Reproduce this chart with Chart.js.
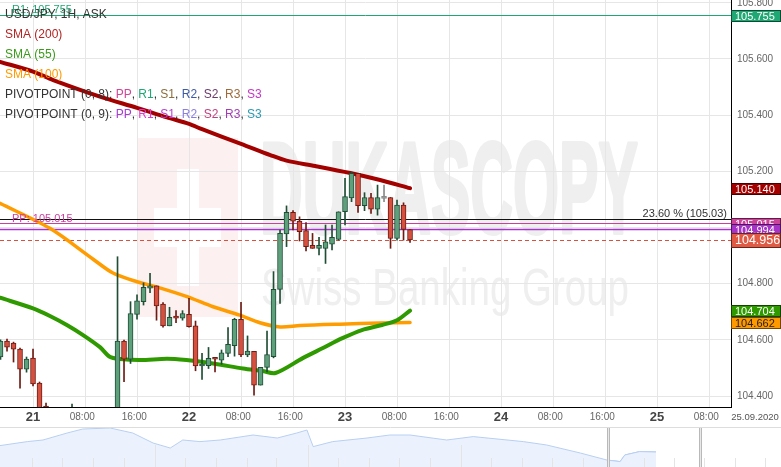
<!DOCTYPE html>
<html>
<head>
<meta charset="utf-8">
<script src="https://cdn.jsdelivr.net/npm/chart.js@4.4.1/dist/chart.umd.min.js"></script>
<style>
html, body { margin: 0; padding: 0; background: #fff; }
#wrap { position: relative; width: 781px; height: 467px; overflow: hidden; }
#main { position: absolute; left: 0; top: 0; }
#nav { position: absolute; left: 0; top: 425px; }
</style>
</head>
<body>
<div id="wrap">
  <canvas id="main" width="781" height="425"></canvas>
  <canvas id="nav" width="781" height="42"></canvas>
</div>
<script>
// hours counted from 21.09 00:00
var hours  = [-5,-4,-3,-2,-1,0,1,2,3,4,5,6,7,8,9,10,11,12,13,14,15,16,17,18,19,20,21,22,23,24,25,26,27,28,29,30,31,32,33,34,35,36,37,38,39,40,41,42,43,44,45,46,47,48,49,50,51,52,53,54,55,56,57,58];
var opens  = [104.539,104.596,104.589,104.567,104.496,104.535,104.446,104.364,104.300,104.260,104.220,104.280,104.310,104.270,104.290,104.260,104.240,104.270,104.300,104.596,104.531,104.691,104.736,104.784,104.792,104.727,104.650,104.685,104.677,104.691,104.650,104.507,104.508,104.534,104.528,104.552,104.579,104.673,104.546,104.559,104.439,104.502,104.540,104.780,104.977,105.054,105.023,104.989,104.937,104.926,104.926,104.941,104.958,105.056,105.105,105.193,105.078,105.107,105.065,105.104,105.107,104.961,105.080,104.993];
var highs  = [104.600,104.603,104.592,104.571,104.539,104.567,104.450,104.375,104.330,104.290,104.300,104.371,104.340,104.310,104.330,104.300,104.290,104.330,104.896,104.599,104.736,104.760,104.803,104.837,104.792,104.733,104.716,104.704,104.704,104.748,104.667,104.552,104.573,104.534,104.564,104.644,104.677,104.734,104.614,104.559,104.502,104.631,104.843,104.991,105.077,105.060,105.038,105.018,104.979,104.965,105.009,105.009,105.056,105.175,105.197,105.193,105.124,105.122,105.151,105.151,105.107,105.098,105.088,104.993];
var lows   = [104.530,104.560,104.521,104.428,104.485,104.436,104.300,104.270,104.240,104.200,104.190,104.250,104.260,104.220,104.250,104.210,104.200,104.230,104.280,104.451,104.516,104.674,104.724,104.768,104.670,104.645,104.650,104.661,104.670,104.645,104.490,104.459,104.498,104.486,104.513,104.540,104.542,104.540,104.540,104.403,104.439,104.486,104.536,104.730,104.932,104.991,104.952,104.917,104.926,104.902,104.872,104.920,104.955,105.009,105.092,105.054,105.060,105.050,105.044,105.092,104.926,104.955,104.955,104.947];
var closes = [104.596,104.574,104.567,104.496,104.532,104.443,104.330,104.300,104.260,104.220,104.280,104.310,104.270,104.290,104.260,104.240,104.270,104.300,104.596,104.531,104.694,104.739,104.787,104.792,104.721,104.650,104.680,104.677,104.694,104.647,104.507,104.514,104.534,104.531,104.554,104.584,104.673,104.546,104.560,104.439,104.502,104.548,104.780,104.979,105.054,105.023,104.985,104.932,104.926,104.937,104.949,104.965,105.056,105.110,105.193,105.078,105.107,105.065,105.107,105.104,104.961,105.080,104.993,104.956];

var sma200X = [-5.08,0,3.1,10.3,16,20.6,24,26,32,36.5,39,43.4,48.8,53.4,58];
var sma200Y = [105.590,105.555,105.525,105.466,105.426,105.392,105.369,105.350,105.298,105.258,105.238,105.219,105.194,105.169,105.140];
var sma55X  = [-5.08,0,2.6,5.2,7.7,10.3,11.8,13.4,16.5,20.6,23.6,27.7,32.3,35.3,37.3,41.5,44.6,47.6,50.6,53.7,56,58];
var sma55Y  = [104.750,104.712,104.685,104.653,104.617,104.574,104.540,104.532,104.528,104.533,104.528,104.516,104.498,104.489,104.482,104.535,104.571,104.606,104.635,104.653,104.670,104.704];
var sma100X = [-5.08,2.6,9.2,12.3,16,19.1,23.7,27.7,31.8,34.9,38,41.1,47.2,53.4,58];
var sma100Y = [105.086,104.997,104.888,104.838,104.807,104.788,104.754,104.718,104.688,104.661,104.646,104.651,104.656,104.660,104.662];

var r1Level = 105.755;
var fibLevel = 105.03;
var pp8Level = 105.015;
var pp9Level = 104.994;
var lastPrice = 104.956;

var firstDay = 21;
var dateLabel = '25.09.2020';

// navigator (overview) profile
var navX = [0,3.5,5.5,8.6,10.6,14.1,17,19.6,21.8,23.4,25.6,28.2,32.4,35.5,38,39.3,40.1,42.6,47,49.9,52.5,57.2,60.6,67,70,74.3,77.7,79.4,80,81.9,84];
var navY = [105.97,106.17,106.25,106.6,106.8,106.85,106.6,106.1,105.85,106.25,106.17,106.25,106.5,106.35,106.6,106.75,105.92,106.17,106.35,106.5,106.5,106.25,106.42,106.17,106.0,105.6,105.25,105.17,105.5,105.67,105.65];
var navWinStart = 77.85;
var navWinEnd = 89.6;
var navTicks = [4.1,8.0,11.9,15.9,19.8,23.7,27.6,31.6,35.4,39.4,43.3,47.2,51.1,55.0,59.0,62.9,66.8,70.7,74.6,82.5,86.3,90.2,94.1,98.0];
var navTallTicks = [19.8,39.4,59.0];

var FONT = 'Arial, "Liberation Sans", sans-serif';
Chart.defaults.font.family = FONT;

var bodyFill = [], edge = [];
for (var i = 0; i < hours.length; i++) {
    if (closes[i] > opens[i]) { bodyFill.push('#5e9f7c'); edge.push('#1f4e35'); }
    else if (closes[i] < opens[i]) { bodyFill.push('#d5503f'); edge.push('#6e1b13'); }
    else { bodyFill.push('#9a9a9a'); edge.push('#8a8a8a'); }
}

function pts(xs, ys) {
    return xs.map(function (x, k) { return {x: x, y: ys[k]}; });
}

var watermark = {
    id: 'watermark',
    beforeDraw: function (chart) {
        var ctx = chart.ctx;
        ctx.save();
        // swiss cross logo
        ctx.fillStyle = '#fcf0f0';
        ctx.fillRect(137, 138, 101, 179);
        ctx.fillStyle = '#ffffff';
        ctx.fillRect(177, 169, 22, 117);
        ctx.fillRect(154, 208, 67, 39);
        // company name
        ctx.fillStyle = '#efefef';
        ctx.strokeStyle = '#efefef';
        ctx.lineWidth = 4;
        ctx.lineJoin = 'round';
        ctx.font = 'bold 130px ' + FONT;
        ctx.textBaseline = 'alphabetic';
        var w = ctx.measureText('DUKASCOPY').width;
        ctx.translate(260, 233);
        ctx.scale(378 / w, 1);
        ctx.fillText('DUKASCOPY', 0, 0);
        ctx.strokeText('DUKASCOPY', 0, 0);
        ctx.restore();
        ctx.save();
        ctx.fillStyle = '#efefef';
        ctx.font = '52px ' + FONT;
        var w2 = ctx.measureText('Swiss Banking Group').width;
        ctx.translate(261, 305);
        ctx.scale(368 / w2, 1);
        ctx.fillText('Swiss Banking Group', 0, 0);
        ctx.restore();
    }
};

var levels = {
    id: 'levels',
    beforeDatasetsDraw: function (chart) {
        var ctx = chart.ctx, a = chart.chartArea, y = chart.scales.y;
        var list = [
            {v: r1Level, c: '#1fa774', w: 1},
            {v: fibLevel, c: '#111111', w: 1},
            {v: pp8Level, c: '#cc3fa0', w: 1.2},
            {v: pp9Level, c: '#a535cc', w: 1.5},
            {v: lastPrice, c: '#d9503f', w: 1, d: [4, 3]}
        ];
        ctx.save();
        list.forEach(function (l) {
            var py = Math.round(y.getPixelForValue(l.v)) + 0.5;
            ctx.strokeStyle = l.c;
            ctx.lineWidth = l.w;
            ctx.setLineDash(l.d || []);
            ctx.beginPath();
            ctx.moveTo(a.left, py);
            ctx.lineTo(a.right, py);
            ctx.stroke();
        });
        ctx.restore();
    }
};

function runs(ctx, x, y, parts) {
    parts.forEach(function (p) {
        ctx.fillStyle = p[1];
        ctx.fillText(p[0], x, y);
        x += ctx.measureText(p[0]).width;
    });
}

var overlay = {
    id: 'overlay',
    afterDraw: function (chart) {
        var ctx = chart.ctx, a = chart.chartArea, y = chart.scales.y;
        ctx.save();
        // level captions
        ctx.font = '11px ' + FONT;
        ctx.textBaseline = 'alphabetic';
        ctx.fillStyle = '#1fa774';
        ctx.fillText('R1: 105.755', 12, y.getPixelForValue(r1Level) - 2);
        ctx.fillStyle = '#cc3fa0';
        ctx.fillText('PP: 105.015', 12, y.getPixelForValue(pp8Level) - 1);
        ctx.fillStyle = '#333';
        ctx.textAlign = 'right';
        ctx.fillText('23.60 % (105.03)', a.right - 4, y.getPixelForValue(fibLevel) - 2);
        ctx.textAlign = 'left';

        // legend block
        ctx.font = '12px ' + FONT;
        ctx.textBaseline = 'middle';
        var k = '#333333';
        runs(ctx, 5, 15, [['USD/JPY, 1H, ASK', k]]);
        runs(ctx, 5, 35, [['SMA (200)', '#b32424']]);
        runs(ctx, 5, 55, [['SMA (55)', '#3a9a1a']]);
        runs(ctx, 5, 75, [['SMA (100)', '#ff9a00']]);
        runs(ctx, 5, 95, [['PIVOTPOINT (0, 8): ', k], ['PP', '#d0479a'], [', ', k], ['R1', '#1fa774'], [', ', k], ['S1', '#8c6d3b'], [', ', k],
            ['R2', '#3d5aa8'], [', ', k], ['S2', '#6b3a6b'], [', ', k], ['R3', '#9c6b3a'], [', ', k], ['S3', '#c436c4']]);
        runs(ctx, 5, 115, [['PIVOTPOINT (0, 9): ', k], ['PP', '#a73ad0'], [', ', k], ['R1', '#e03cc8'], [', ', k], ['S1', '#b63fd0'], [', ', k],
            ['R2', '#8a7fe0'], [', ', k], ['S2', '#c0407f'], [', ', k], ['R3', '#a03db0'], [', ', k], ['S3', '#2a9ab0']]);

        // price tags on the axis
        var tags = [
            {v: r1Level, bg: '#1fa774', fg: '#fff'},
            {v: sma200Y[sma200Y.length - 1], bg: '#a30000', fg: '#fff'},
            {v: pp8Level, bg: '#cc4499', fg: '#fff'},
            {v: pp9Level, bg: '#a632c8', fg: '#fff'},
            {v: sma55Y[sma55Y.length - 1], bg: '#2e9a00', fg: '#fff'},
            {v: sma100Y[sma100Y.length - 1], bg: '#ff9900', fg: '#222'},
            {v: lastPrice, bg: '#e05a44', fg: '#fff', big: true}
        ];
        ctx.textBaseline = 'middle';
        tags.forEach(function (t) {
            var cy = y.getPixelForValue(t.v) + 0.5;
            var h = t.big ? 15 : 12;
            var top = Math.round(cy - h / 2);
            ctx.fillStyle = t.bg;
            ctx.fillRect(a.right, top, 50, h);
            ctx.strokeStyle = 'rgba(0,0,0,0.55)';
            ctx.lineWidth = 1;
            ctx.strokeRect(a.right + 0.5, top + 0.5, 49, h - 1);
            ctx.fillStyle = t.fg;
            ctx.font = (t.big ? '12.5px ' : '11px ') + FONT;
            ctx.fillText(t.v.toFixed(3), a.right + 4, top + h / 2 + 0.5);
        });

        ctx.font = '9.5px ' + FONT;
        ctx.fillStyle = '#555';
        ctx.textAlign = 'center';
        ctx.fillText(dateLabel, 755, 417);
        ctx.restore();
    }
};

new Chart(document.getElementById('main'), {
    type: 'bar',
    data: {
        datasets: [
            {
                data: hours.map(function (h, k) { return {x: h, y: [opens[k], closes[k]]}; }),
                backgroundColor: bodyFill,
                borderColor: edge,
                borderWidth: 1,
                borderSkipped: false,
                barThickness: 5,
                minBarLength: 2,
                grouped: false,
                order: 0
            },
            {
                data: hours.map(function (h, k) { return {x: h, y: [lows[k], highs[k]]}; }),
                backgroundColor: edge,
                borderWidth: 0,
                barThickness: 1,
                grouped: false,
                order: 1
            },
            {
                type: 'line',
                data: pts(sma200X, sma200Y),
                borderColor: '#a30000',
                borderWidth: 4,
                pointRadius: 0,
                tension: 0.3,
                borderCapStyle: 'round',
                order: 2
            },
            {
                type: 'line',
                data: pts(sma55X, sma55Y),
                borderColor: '#2e9a00',
                borderWidth: 4,
                pointRadius: 0,
                tension: 0.3,
                borderCapStyle: 'round',
                order: 3
            },
            {
                type: 'line',
                data: pts(sma100X, sma100Y),
                borderColor: '#ff9c00',
                borderWidth: 3.5,
                pointRadius: 0,
                tension: 0.3,
                borderCapStyle: 'round',
                order: 4
            }
        ]
    },
    options: {
        responsive: false,
        animation: false,
        devicePixelRatio: 1,
        layout: { padding: 0 },
        plugins: { legend: { display: false }, tooltip: { enabled: false } },
        scales: {
            x: {
                type: 'linear',
                min: -5.08,
                max: 107.38,
                offset: false,
                grid: { color: '#e6e6e6', offset: false, drawTicks: false },
                border: { color: '#000', width: 1 },
                afterFit: function (s) { s.height = 18; s.paddingLeft = 0; s.paddingRight = 0; },
                ticks: {
                    stepSize: 8,
                    includeBounds: false,
                    maxRotation: 0,
                    autoSkip: false,
                    padding: 1,
                    callback: function (v) {
                        if (v % 24 === 0) return String(firstDay + v / 24);
                        return (v % 24 === 8 ? '08:00' : '16:00') + '  ';
                    },
                    font: function (c) {
                        if (c.tick && c.tick.value % 24 === 0) return {size: 13, weight: 'bold', lineHeight: 1.45};
                        return {size: 10, lineHeight: 1.9};
                    },
                    color: function (c) {
                        return c.tick && c.tick.value % 24 === 0 ? '#444' : '#666';
                    }
                }
            },
            y: {
                position: 'right',
                min: 104.361,
                max: 105.81,
                beginAtZero: false,
                grid: { color: '#e6e6e6', drawTicks: false },
                border: { color: '#000', width: 1 },
                afterFit: function (s) { s.width = 50; s.paddingTop = 0; s.paddingBottom = 0; },
                ticks: {
                    stepSize: 0.2,
                    includeBounds: false,
                    padding: 6,
                    color: '#666',
                    font: { size: 10 },
                    callback: function (v) { return v.toFixed(3); }
                }
            }
        }
    },
    plugins: [watermark, levels, overlay]
});

var navDeco = {
    id: 'navDeco',
    afterDatasetsDraw: function (chart) {
        var ctx = chart.ctx, x = chart.scales.x, H = chart.height;
        ctx.save();
        ctx.strokeStyle = '#e4e4e4';
        ctx.lineWidth = 1;
        navTicks.forEach(function (t) {
            var px = Math.round(x.getPixelForValue(t)) + 0.5;
            var top = navTallTicks.indexOf(t) >= 0 ? 20 : 33;
            ctx.beginPath(); ctx.moveTo(px, top); ctx.lineTo(px, H); ctx.stroke();
        });
        ctx.strokeStyle = '#dddddd';
        ctx.beginPath(); ctx.moveTo(0, 2.5); ctx.lineTo(chart.width, 2.5); ctx.stroke();
        [navWinStart, navWinEnd].forEach(function (t) {
            var px = Math.round(x.getPixelForValue(t));
            ctx.fillStyle = '#b9b9b9';
            ctx.fillRect(px - 1, 3, 1, H);
            ctx.fillRect(px + 1, 3, 1, H);
            ctx.fillStyle = '#e8e8e8';
            ctx.fillRect(px, 3, 1, H);
        });
        ctx.restore();
    }
};

var winIdx = navX.map(function (v, k) { return v >= navWinStart - 0.3 ? k : -1; }).filter(function (k) { return k >= 0; });

new Chart(document.getElementById('nav'), {
    type: 'line',
    data: {
        datasets: [
            {
                data: pts(navX, navY),
                borderColor: '#b8cff2',
                borderWidth: 1,
                backgroundColor: '#ebf2fd',
                fill: 'start',
                pointRadius: 0,
                tension: 0
            },
            {
                data: winIdx.map(function (k) { return {x: navX[k], y: navY[k]}; }),
                borderColor: '#9fbdf0',
                borderWidth: 1,
                backgroundColor: '#dbe7fb',
                fill: 'start',
                pointRadius: 0,
                tension: 0
            }
        ]
    },
    options: {
        responsive: false,
        animation: false,
        devicePixelRatio: 1,
        layout: { padding: 0 },
        plugins: { legend: { display: false }, tooltip: { enabled: false } },
        scales: {
            x: { type: 'linear', min: 0, max: 100, display: false },
            y: { min: 104.9, max: 107, display: false }
        }
    },
    plugins: [navDeco]
});
</script>
</body>
</html>
